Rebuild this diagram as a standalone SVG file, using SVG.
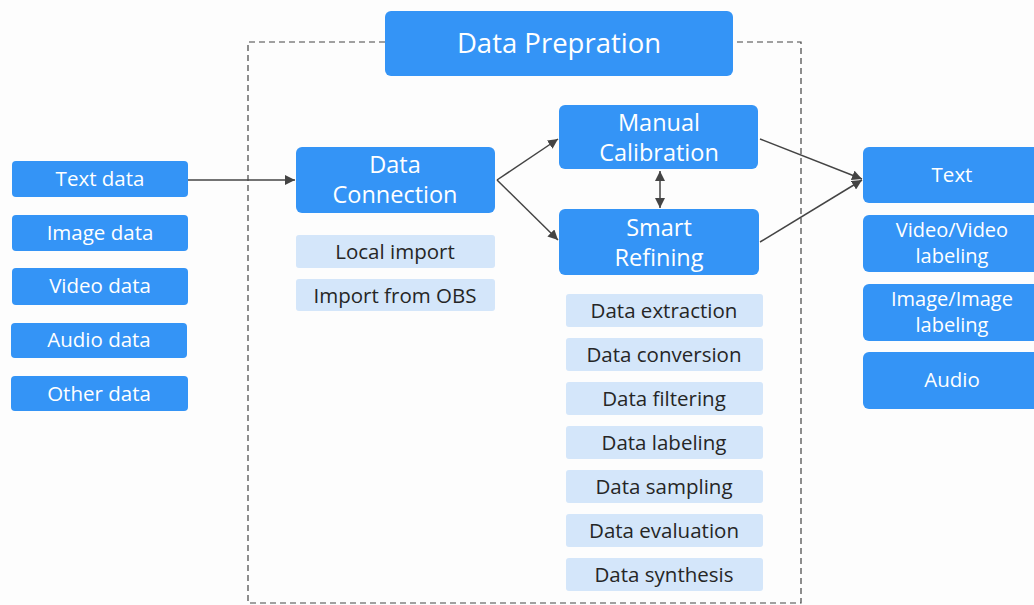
<svg xmlns="http://www.w3.org/2000/svg" width="1034" height="605" viewBox="0 0 1034 605">
<defs>
<style>
.b{fill:#3494f6}
.l{fill:#d4e6fa}
.tw{font-family:"Open Sans","Liberation Sans",sans-serif;font-size:20.5px;fill:#fff;text-anchor:middle}
.tb{font-size:23.5px}
.t2{font-size:20px}
.td{font-family:"Open Sans","Liberation Sans",sans-serif;font-size:20.5px;fill:#262626;text-anchor:middle}
.c{stroke:#444;stroke-width:1.5;fill:none}
.d{stroke:#444;stroke-width:1.2;fill:none;stroke-dasharray:6 4}
</style>
<marker id="ah" viewBox="0 0 10 10" refX="10" refY="5" markerWidth="10" markerHeight="10" markerUnits="userSpaceOnUse" orient="auto-start-reverse">
<path d="M0,0 L10,5 L0,10 z" fill="#444"/>
</marker>
</defs>
<rect width="1034" height="605" fill="#fdfdfd"/>
<g id="frame">
<path class="d" d="M385,42 H248 V603 H801 V42 H733"/>
</g>
<g id="connectors">
<line class="c" x1="188" y1="180" x2="295" y2="180" marker-end="url(#ah)"/>
<line class="c" x1="497" y1="180" x2="558" y2="139" marker-end="url(#ah)"/>
<line class="c" x1="497" y1="180" x2="558" y2="240" marker-end="url(#ah)"/>
<line class="c" x1="660" y1="171" x2="660" y2="208" marker-start="url(#ah)" marker-end="url(#ah)"/>
<line class="c" x1="760" y1="139" x2="862" y2="179" marker-end="url(#ah)"/>
<line class="c" x1="760" y1="242" x2="862" y2="180" marker-end="url(#ah)"/>
</g>
<g id="data-prep"><rect class="b" x="385" y="11" width="348" height="65" rx="6"/><text class="tw" x="559" y="53" style="font-size:27.5px">Data Prepration</text></g>
<g id="text-data"><rect class="b" x="12" y="161" width="176" height="36" rx="4"/><text class="tw" x="100" y="186">Text data</text></g>
<g id="image-data"><rect class="b" x="12" y="215" width="176" height="36" rx="4"/><text class="tw" x="100" y="240">Image data</text></g>
<g id="video-data"><rect class="b" x="12" y="268" width="176" height="37" rx="4"/><text class="tw" x="100" y="293">Video data</text></g>
<g id="audio-data"><rect class="b" x="11" y="323" width="176" height="35" rx="4"/><text class="tw" x="99" y="347">Audio data</text></g>
<g id="other-data"><rect class="b" x="11" y="376" width="177" height="35" rx="4"/><text class="tw" x="99" y="401">Other data</text></g>
<g id="data-connection"><rect class="b" x="296" y="147" width="199" height="66" rx="6"/><text class="tw tb" x="395" y="173">Data</text><text class="tw tb" x="395" y="203">Connection</text></g>
<g id="local-import"><rect class="l" x="296" y="235" width="199" height="33" rx="3"/><text class="td" x="395" y="259">Local import</text></g>
<g id="import-obs"><rect class="l" x="296" y="279" width="199" height="32" rx="3"/><text class="td" x="395" y="303">Import from OBS</text></g>
<g id="manual-calibration"><rect class="b" x="559" y="105" width="199" height="64" rx="6"/><text class="tw tb" x="659" y="131">Manual</text><text class="tw tb" x="659" y="161">Calibration</text></g>
<g id="smart-refining"><rect class="b" x="559" y="209" width="200" height="66" rx="6"/><text class="tw tb" x="659" y="236">Smart</text><text class="tw tb" x="659" y="266">Refining</text></g>
<g id="data-extraction"><rect class="l" x="566" y="294" width="197" height="33" rx="3"/><text class="td" x="664" y="318">Data extraction</text></g>
<g id="data-conversion"><rect class="l" x="566" y="338" width="197" height="33" rx="3"/><text class="td" x="664" y="362">Data conversion</text></g>
<g id="data-filtering"><rect class="l" x="566" y="382" width="197" height="33" rx="3"/><text class="td" x="664" y="406">Data filtering</text></g>
<g id="data-labeling"><rect class="l" x="566" y="426" width="197" height="33" rx="3"/><text class="td" x="664" y="450">Data labeling</text></g>
<g id="data-sampling"><rect class="l" x="566" y="470" width="197" height="33" rx="3"/><text class="td" x="664" y="494">Data sampling</text></g>
<g id="data-evaluation"><rect class="l" x="566" y="514" width="197" height="33" rx="3"/><text class="td" x="664" y="538">Data evaluation</text></g>
<g id="data-synthesis"><rect class="l" x="566" y="558" width="197" height="33" rx="3"/><text class="td" x="664" y="582">Data synthesis</text></g>
<g id="out-text"><rect class="b" x="863" y="147" width="180" height="56" rx="6"/><text class="tw" x="952" y="182">Text</text></g>
<g id="out-video"><rect class="b" x="863" y="215" width="180" height="57" rx="6"/><text class="tw t2" x="952" y="237">Video/Video</text><text class="tw t2" x="952" y="263">labeling</text></g>
<g id="out-image"><rect class="b" x="863" y="284" width="180" height="57" rx="6"/><text class="tw t2" x="952" y="306">Image/Image</text><text class="tw t2" x="952" y="332">labeling</text></g>
<g id="out-audio"><rect class="b" x="863" y="352" width="180" height="57" rx="6"/><text class="tw" x="952" y="387">Audio</text></g>
</svg>
